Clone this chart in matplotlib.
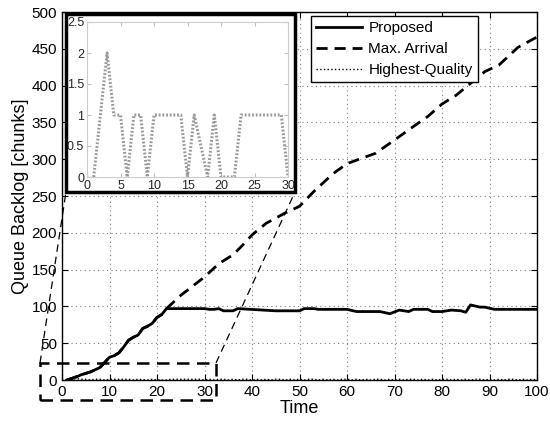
import matplotlib.pyplot as plt
from matplotlib.patches import Rectangle
from matplotlib.lines import Line2D

plt.rcParams['font.family'] = ['Liberation Sans', 'DejaVu Sans']

# proposed queue backlog
prop_t = [1, 2, 3, 4, 5, 6, 7, 8, 9, 10, 11, 12, 13, 14, 15, 16, 17, 18, 19, 20, 21, 22,
          30, 31, 32, 33, 34, 36, 37, 45, 50, 51, 53, 54, 60, 62, 67, 69, 71, 73, 74, 77,
          78, 80, 82, 84, 85, 86, 88, 89, 91, 100]
prop_q = [0, 2, 4, 7, 9, 11, 14, 17, 24, 31, 33, 37, 45, 54, 58, 61, 70, 73, 77, 85, 89, 97,
          97, 96, 96, 97, 94, 94, 97, 94, 94, 97, 97, 96, 96, 93, 93, 90, 95, 93, 96, 96,
          93, 93, 95, 94, 92, 102, 99, 99, 96, 96]

# max arrival queue backlog
max_t = [1, 2, 4, 6, 8, 9, 10, 11, 12, 13, 14, 15, 16, 17, 18, 19, 20, 21, 22, 25, 28, 30,
         33, 36, 38, 40, 43, 47, 50, 53, 57, 60, 63, 66, 70, 73, 77, 80, 83, 86, 89, 92,
         94, 96, 100]
max_q = [0, 2, 7, 11, 17, 24, 31, 33, 37, 45, 54, 58, 61, 70, 73, 77, 85, 89, 97, 115, 130, 140,
         158, 170, 183, 197, 213, 227, 236, 256, 280, 294, 301, 308, 326, 340, 358, 375, 387, 403, 419, 428,
         440, 452, 466]

# highest-quality queue backlog, t = 1..100
hq_t = list(range(1, 101))
hq_q = [0, 1, 2, 1, 1, 0, 1, 1, 0, 1, 1, 1, 1, 1, 0, 1, 0.5, 0, 1, 0,
        0, 0, 1, 1, 1, 1, 1, 1, 1, 0, 1, 0, 1, 1, 0, 1, 0, 1, 1, 0,
        1, 0, 1, 0, 1, 1, 0, 1, 0, 1, 0, 1, 1, 0, 1, 0, 1, 0, 1, 1,
        0, 1, 0, 1, 0, 1, 1, 0, 1, 0, 1, 0, 1, 1, 0, 1, 0, 1, 0, 1,
        1, 0, 1, 0, 1, 0, 1, 1, 0, 1, 0, 1, 0, 1, 1, 0, 1, 0, 1, 0]

fig = plt.figure(figsize=(5.5, 4.24), dpi=100)
ax = fig.add_axes([62/550, 1-380/424, 475/550, 368/424])

ax.plot(prop_t, prop_q, color='black', lw=2, label='Proposed')
ax.plot(max_t, max_q, color='black', lw=2, ls=(0, (4, 2.5)), label='Max. Arrival')
ax.plot(hq_t, hq_q, color='black', lw=1, ls=':', label='Highest-Quality')

ax.set_xlim(0, 100)
ax.set_ylim(0, 500)
ax.set_xticks(range(0, 101, 10))
ax.set_yticks(range(0, 501, 50))
ax.tick_params(direction='in', top=True, right=True, labelsize=11, length=4)
ax.grid(True, ls=(0, (1, 3)), color='0.5', lw=0.8)
for s in ax.spines.values():
    s.set_linewidth(1)
ax.set_xlabel('Time', fontsize=13, labelpad=1)
ax.set_ylabel('Queue Backlog [chunks]', fontsize=13, labelpad=2)

leg = ax.legend(loc='upper right', bbox_to_anchor=(478/550, 1-16/424),
                bbox_transform=fig.transFigure, borderaxespad=0, fancybox=False,
                edgecolor='black', framealpha=1, fontsize=11, handlelength=3.0,
                borderpad=0.35, labelspacing=0.45, handletextpad=0.4)
leg.get_frame().set_linewidth(1)

# zoom box and connector lines (figure pixels)
W, H = 550, 424
def fp(x, y):
    return (x / W, 1 - y / H)

zx0, zx1, zy0, zy1 = 40, 216, 363, 400
fig.add_artist(Rectangle(fp(zx0, zy1), (zx1-zx0)/W, (zy1-zy0)/H, fill=False,
                         ec='black', lw=1.8, ls=(0, (5, 3)), transform=fig.transFigure))
for (xa, ya), (xb, yb) in [((zx0, zy0), (66, 192)), ((zx1, zy0), (295, 192))]:
    fig.add_artist(Line2D([xa/W, xb/W], [1-ya/H, 1-yb/H], color='black', lw=0.9,
                          ls=(0, (6, 4)), transform=fig.transFigure))

# inset frame
fig.add_artist(Rectangle(fp(66, 192), 229/W, 178/H, fc='white', ec='black', lw=2.5,
                         transform=fig.transFigure, zorder=3))
ins = fig.add_axes([87/550, 1-177/424, 201/550, 155/424], zorder=4)
ins.plot(hq_t[:30], hq_q[:30], color='0.6', lw=2.2, ls=(0, (0.6, 0.6)))
ins.set_xlim(0, 30)
ins.set_ylim(0, 2.5)
ins.set_xticks(range(0, 31, 5))
ins.set_yticks([0, 0.5, 1, 1.5, 2, 2.5])
ins.set_yticklabels(['0', '0.5', '1', '1.5', '2', '2.5'])
ins.tick_params(direction='in', top=True, right=True, labelsize=9, length=3,
                color='0.75', pad=2, labelcolor='0.15')
for s in ins.spines.values():
    s.set_color('0.8')

fig.savefig('out.png', dpi=100)
